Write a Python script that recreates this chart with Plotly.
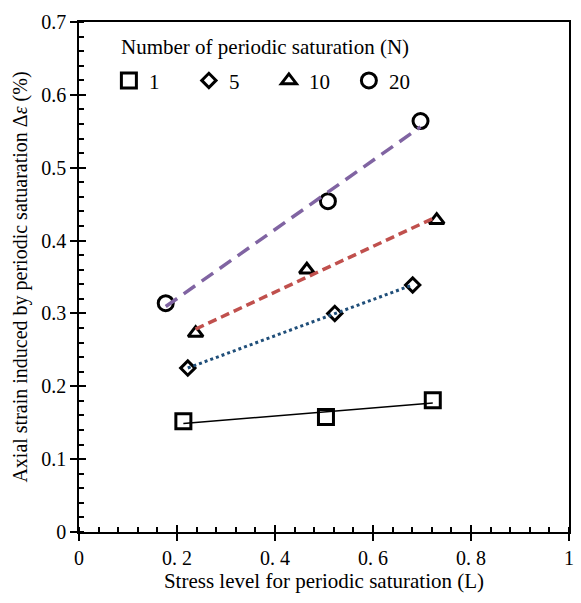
import numpy as np
import plotly.graph_objects as go

# Stress level L and induced axial strain (%) for each number of periodic saturations N
series_names = ["1", "5", "10", "20"]
stress_n1 = [0.213, 0.504, 0.722]
strain_n1 = [0.152, 0.158, 0.181]
stress_n5 = [0.222, 0.522, 0.681]
strain_n5 = [0.225, 0.300, 0.339]
stress_n10 = [0.238, 0.465, 0.730]
strain_n10 = [0.273, 0.360, 0.428]
stress_n20 = [0.177, 0.508, 0.697]
strain_n20 = [0.314, 0.454, 0.564]

x_ticks = [0, 0.2, 0.4, 0.6, 0.8, 1]
x_tick_text = ["0", "0. 2", "0. 4", "0. 6", "0. 8", "1"]
y_ticks = [0, 0.1, 0.2, 0.3, 0.4, 0.5, 0.6, 0.7]
y_tick_text = ["0", "0.1", "0.2", "0.3", "0.4", "0.5", "0.6", "0.7"]

FONT = "Liberation Serif"

xs = [stress_n1, stress_n5, stress_n10, stress_n20]
ys = [strain_n1, strain_n5, strain_n10, strain_n20]
symbols = ["square-open", "diamond-open", "triangle-up-open", "circle-open"]
sizes = [15, 11, 13, 15]
trend_styles = [
    dict(color="black", width=1.5, dash="solid"),
    dict(color="#1F4E79", width=3, dash="dot"),
    dict(color="#C0504D", width=3.5, dash="9px,5px"),
    dict(color="#8064A2", width=3.5, dash="14px,8px"),
]

fig = go.Figure()

# open black markers (also used as legend entries)
for name, x, y, sym, sz in zip(series_names, xs, ys, symbols, sizes):
    fig.add_trace(go.Scatter(
        x=x, y=y, mode="markers", name=name,
        marker=dict(symbol=sym, size=sz, color="black",
                    line=dict(color="black", width=3)),
    ))

# linear trend lines drawn over the markers
for x, y, style in zip(xs, ys, trend_styles):
    k, b = np.polyfit(x, y, 1)
    xl = np.array([min(x), max(x)])
    fig.add_trace(go.Scatter(
        x=xl, y=k * xl + b, mode="lines", line=style,
        showlegend=False, hoverinfo="skip",
    ))

# companion axes supplying the inner half of the major ticks
fig.add_trace(go.Scatter(x=[None], y=[None], xaxis="x2", yaxis="y2",
                         showlegend=False, hoverinfo="skip"))

tick_style = dict(showgrid=False, zeroline=False, tickcolor="black", tickwidth=1.5)
axis_common = dict(linecolor="black", linewidth=1.5, **tick_style)

fig.update_layout(
    width=581, height=603,
    margin=dict(l=79, r=7, t=22, b=71),
    plot_bgcolor="white", paper_bgcolor="white",
    font=dict(family=FONT, size=20, color="black"),
    xaxis=dict(range=[0, 1], tickvals=x_ticks, ticktext=x_tick_text,
               ticks="outside", ticklen=7, showline=True, mirror=True,
               minor=dict(ticks="inside", dtick=0.04, ticklen=5,
                          tickcolor="black", tickwidth=1.5),
               title=dict(text="Stress level for periodic saturation (L)",
                          font=dict(size=21), standoff=6),
               tickfont=dict(size=20), **axis_common),
    yaxis=dict(range=[0, 0.7], tickvals=y_ticks, ticktext=y_tick_text,
               ticks="outside", ticklen=7, showline=True, mirror=True,
               minor=dict(ticks="inside", dtick=0.02, ticklen=5,
                          tickcolor="black", tickwidth=1.5),
               title=dict(text="Axial strain induced by periodic satuaration Δ<i>ε</i> (%)",
                          font=dict(size=20), standoff=8),
               tickfont=dict(size=20), **axis_common),
    xaxis2=dict(range=[0, 1], overlaying="x", tickvals=x_ticks,
                showticklabels=False, ticks="inside", ticklen=7,
                showline=False, side="bottom", anchor="y2", **tick_style),
    yaxis2=dict(range=[0, 0.7], overlaying="y", tickvals=y_ticks,
                showticklabels=False, ticks="inside", ticklen=7,
                showline=False, side="left", anchor="x2", **tick_style),
    legend=dict(
        orientation="h", x=0.061, y=0.925, xanchor="left", yanchor="top",
        font=dict(size=21), bgcolor="rgba(0,0,0,0)",
        entrywidth=35, entrywidthmode="pixels", itemwidth=30,
        tracegroupgap=0,
    ),
    annotations=[dict(
        text="Number of periodic saturation (N)", xref="paper", yref="paper",
        x=0.081, y=0.951, xanchor="left", yanchor="middle", showarrow=False,
        font=dict(size=21),
    )],
    showlegend=True,
)

fig.write_html("out.html")
